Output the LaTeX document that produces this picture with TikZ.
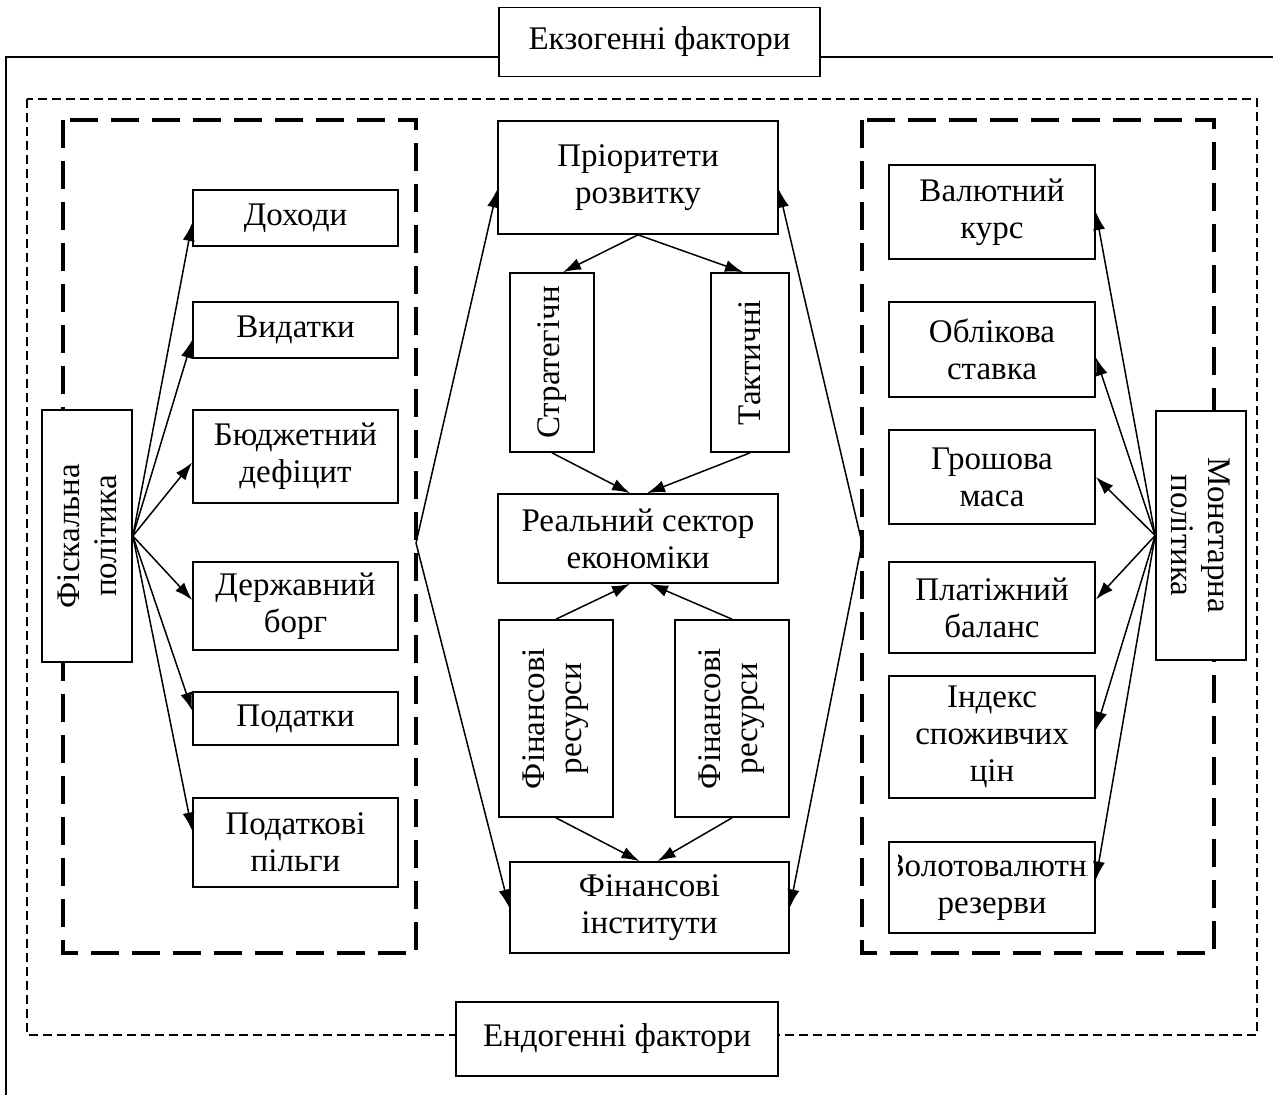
\documentclass[tikz,border=0pt]{standalone}
\usepackage{fontspec}
\setmainfont{Liberation Serif}
\usetikzlibrary{positioning,arrows.meta}

\newcommand{\boxfont}{\fontsize{16.5}{18.5}\selectfont}

\begin{document}
\begin{tikzpicture}[
            x=0.5pt, y=-0.5pt,
            box/.style={rectangle, draw, line width=0.85pt, fill=white, align=center, font=\boxfont, inner sep=0pt},
            vtext/.style={align=center, font=\boxfont},
            arr/.style={-{Latex[length=9pt,width=6pt]}, line width=0.75pt},
            grp/.style={draw, line width=2pt, dash pattern=on 14pt off 6.5pt},
            zone/.style={draw, line width=0.65pt, dash pattern=on 4.5pt off 2.5pt}
        ]
            \useasboundingbox (0,0) rectangle (1273,1095);

            % frames
            \draw[line width=0.85pt] (1273,57) -- (6,57) -- (6,1095);
            \draw[zone] (27,99) rectangle (1257,1035);
            \draw[grp] (63,120) rectangle (416,953);
            \draw[grp] (862,120) rectangle (1214,953);
            \coordinate (lhub) at (416,543);
            \coordinate (rhub) at (862,543);

            \node[box, minimum width=160.5pt, minimum height=34.5pt](ex) at (659.5,42){Екзогенні фактори};
            \node[box, minimum width=161pt, minimum height=37pt](en) at (617,1039){Ендогенні фактори};

            % fiscal side
            \node[box, minimum width=45pt, minimum height=126pt](fp) at (87,536){};
            \node[vtext, rotate=90] at (fp) {Фіскальна\\політика};
                \node[box, minimum width=102.5pt, minimum height=28pt](dh) at (295.5,218){Доходи};
                \node[box, minimum width=102.5pt, minimum height=28pt](vd) at (295.5,330){Видатки};
                \node[box, minimum width=102.5pt, minimum height=46.5pt](bd) at (295.5,456.5){Бюджетний\\дефіцит};
                \node[box, minimum width=102.5pt, minimum height=44pt](db) at (295.5,606){Державний\\борг};
                \node[box, minimum width=102.5pt, minimum height=26.5pt](pd) at (295.5,718.5){Податки};
                \node[box, minimum width=102.5pt, minimum height=44.5pt](pp) at (295.5,842.5){Податкові\\пільги};

            % centre
            \node[box, minimum width=140pt, minimum height=56.5pt](pr) at (638,177.5){Пріоритети\\розвитку};
                \node[box, minimum width=42pt, minimum height=89.5pt](st) at (552,362.5){};
                \node[vtext, rotate=90] at (st) {Стратегічн};
                \node[box, minimum width=39pt, minimum height=89.5pt](tk) at (750,362.5){};
                \node[vtext, rotate=90] at (tk) {Тактичні};
            \node[box, minimum width=140pt, minimum height=44.5pt](rs) at (638,538.5){Реальний сектор\\економіки};
                \node[box, minimum width=57pt, minimum height=98.5pt](frl) at (556,718.5){};
                \node[vtext, rotate=90] at (frl) {Фінансові\\ресурси};
                \node[box, minimum width=57pt, minimum height=98.5pt](frr) at (732,718.5){};
                \node[vtext, rotate=90] at (frr) {Фінансові\\ресурси};
            \node[box, minimum width=139.5pt, minimum height=45.5pt](fi) at (649.5,907.5){Фінансові\\інститути};

            % monetary side
            \node[box, minimum width=45pt, minimum height=124.5pt](mp) at (1201,535.5){};
            \node[vtext, rotate=-90] at (mp) {Монетарна\\політика};
                \node[box, minimum width=103pt, minimum height=47pt](vk) at (992,212){Валютний\\курс};
                \node[box, minimum width=103pt, minimum height=47.5pt](os) at (992,349.5){Облікова\\ставка};
                \node[box, minimum width=103pt, minimum height=47pt](gm) at (992,477){Грошова\\маса};
                \node[box, minimum width=103pt, minimum height=45.5pt](pb) at (992,607.5){Платіжний\\баланс};
                \node[box, minimum width=103pt, minimum height=61pt](ic) at (992,737){Індекс\\споживчих\\цін};
                \node[box, minimum width=103pt, minimum height=45.5pt](zr) at (992,887.5){};
                \begin{scope}
                    \clip ([xshift=5pt]zr.south west) rectangle ([xshift=-4pt]zr.north east);
                    \node[vtext] at (zr) {Золотовалютні\\резерви};
                \end{scope}

            % fiscal arrows
            \draw[arr] (fp.east) -- ([yshift=-2.5pt]dh.west);
            \draw[arr] (fp.east) -- ([yshift=-5pt]vd.west);
            \draw[arr] (fp.east) -- ([yshift=-3pt]bd.west);
            \draw[arr] (fp.east) -- ([yshift=3pt]db.west);
            \draw[arr] (fp.east) -- ([yshift=4pt]pd.west);
            \draw[arr] (fp.east) -- ([yshift=6pt]pp.west);

            % monetary arrows
            \draw[arr] (mp.west) -- (vk.east);
            \draw[arr] (mp.west) -- ([yshift=-4pt]os.east);
            \draw[arr] (mp.west) -- (gm.east);
            \draw[arr] (mp.west) -- ([yshift=4pt]pb.east);
            \draw[arr] (mp.west) -- ([yshift=3.5pt]ic.east);
            \draw[arr] (mp.west) -- ([yshift=4pt]zr.east);

            % centre arrows
            \draw[arr] (pr.south) -- ([xshift=5.5pt]st.north);
            \draw[arr] (pr.south) -- ([xshift=-3.5pt]tk.north);
            \draw[arr] (st.south) -- ([xshift=-4pt]rs.north);
            \draw[arr] (tk.south) -- ([xshift=4.5pt]rs.north);
            \draw[arr] (frl.north) -- ([xshift=-4pt]rs.south);
            \draw[arr] (frr.north) -- ([xshift=6pt]rs.south);
            \draw[arr] (frl.south) -- ([xshift=-5pt]fi.north);
            \draw[arr] (frr.south) -- ([xshift=4pt]fi.north);

            % group links
            \draw[arr] (lhub) -- ([yshift=-6pt]pr.west);
            \draw[arr] (lhub) -- (fi.west);
            \draw[arr] (rhub) -- ([yshift=-6pt]pr.east);
            \draw[arr] (rhub) -- (fi.east);
        \end{tikzpicture}
\end{document}
